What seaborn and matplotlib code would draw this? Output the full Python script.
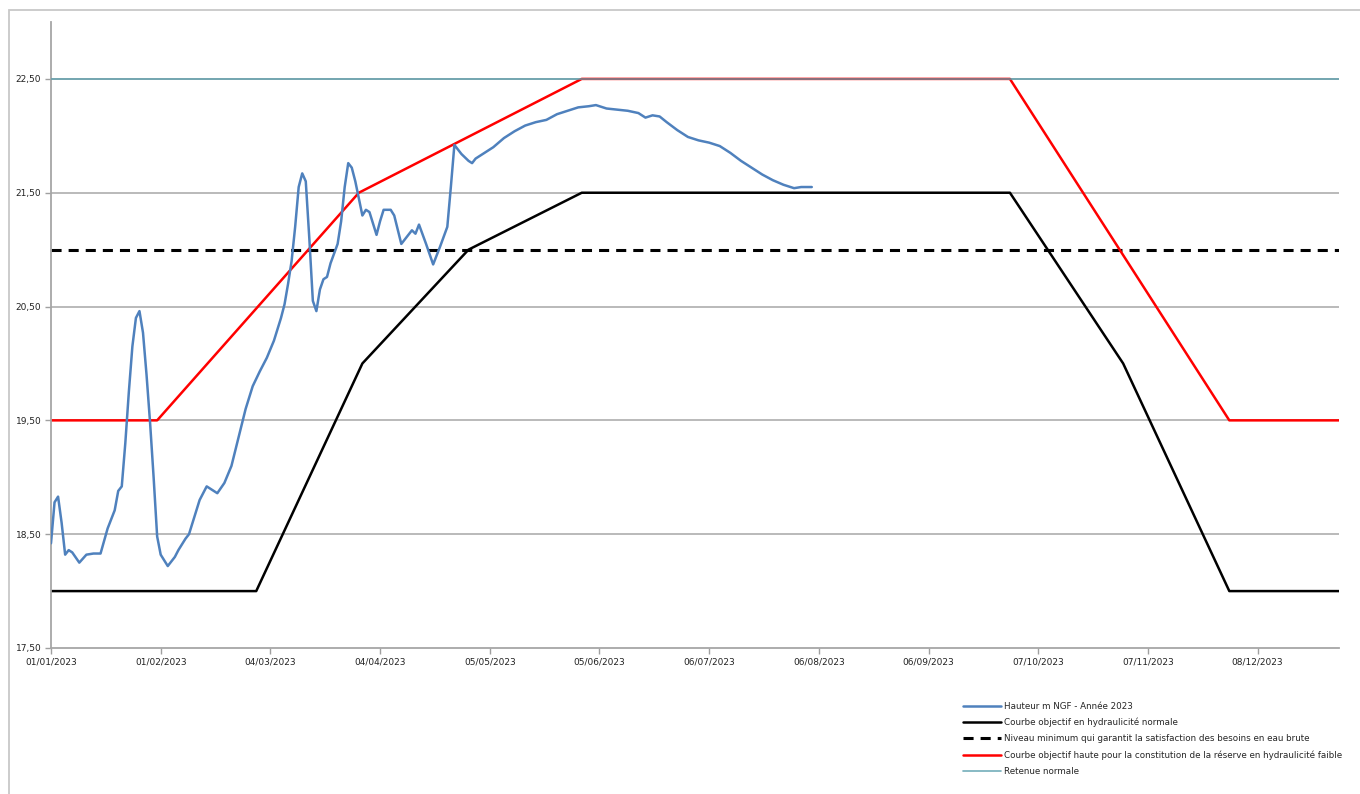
import pandas as pd
import seaborn as sns
import matplotlib.pyplot as plt
import matplotlib.dates as mdates
from matplotlib.patches import Rectangle

# Hauteur m NGF - relevés 2023 (jour de l'année, niveau)
hauteur_jour = [0, 1, 2, 3, 4, 5, 6, 8, 10, 12, 14, 16, 18, 19, 20, 21, 22, 23, 24, 25,
                26, 27, 28, 29, 30, 31, 33, 35, 36, 38, 39, 40, 42, 44, 46, 47, 49, 51, 53, 55,
                57, 59, 61, 63, 65, 66, 67, 68, 69, 70, 71, 72, 73, 74, 75, 76, 77, 78, 79, 81,
                82, 83, 84, 85, 86, 87, 88, 89, 90, 92, 93, 94, 96, 97, 99, 101, 102, 103, 104, 106,
                108, 110, 112, 113, 114, 116, 118, 119, 120, 122, 125, 128, 131, 134, 137, 140, 143, 146, 149, 152,
                154, 157, 160, 163, 166, 168, 170, 172, 174, 177, 180, 183, 186, 189, 192, 195, 198, 201, 204, 207,
                210, 212, 215]
hauteur_val = [18.42, 18.78, 18.83, 18.60, 18.32, 18.36, 18.34, 18.25, 18.32, 18.33, 18.33, 18.55, 18.71, 18.88, 18.92, 19.30, 19.75, 20.15, 20.40, 20.46,
               20.27, 19.90, 19.48, 19.00, 18.48, 18.32, 18.22, 18.30, 18.36, 18.46, 18.50, 18.60, 18.80, 18.92, 18.88, 18.86, 18.95, 19.10, 19.35, 19.60,
               19.80, 19.93, 20.05, 20.20, 20.40, 20.52, 20.70, 20.90, 21.20, 21.55, 21.67, 21.60, 21.10, 20.55, 20.46, 20.65, 20.74, 20.76, 20.88, 21.05,
               21.25, 21.55, 21.76, 21.72, 21.60, 21.45, 21.30, 21.35, 21.33, 21.13, 21.25, 21.35, 21.35, 21.30, 21.05, 21.13, 21.17, 21.14, 21.22, 21.05,
               20.87, 21.03, 21.20, 21.55, 21.92, 21.84, 21.78, 21.76, 21.80, 21.84, 21.90, 21.98, 22.04, 22.09, 22.12, 22.14, 22.19, 22.22, 22.25, 22.26,
               22.27, 22.24, 22.23, 22.22, 22.20, 22.16, 22.18, 22.17, 22.12, 22.05, 21.99, 21.96, 21.94, 21.91, 21.85, 21.78, 21.72, 21.66, 21.61, 21.57,
               21.54, 21.55, 21.55]

# Courbe objectif en hydraulicité normale
normale_dates = ["2023-01-01", "2023-02-28", "2023-03-30", "2023-04-29", "2023-05-31",
                 "2023-09-29", "2023-10-31", "2023-11-30", "2023-12-31"]
normale_val = [18.0, 18.0, 20.0, 21.0, 21.5, 21.5, 20.0, 18.0, 18.0]

# Courbe objectif haute (hydraulicité faible)
haute_dates = ["2023-01-01", "2023-01-31", "2023-03-29", "2023-05-31",
               "2023-09-29", "2023-11-30", "2023-12-31"]
haute_val = [19.5, 19.5, 21.5, 22.5, 22.5, 19.5, 19.5]

# Niveau minimum et retenue normale
bornes = ["2023-01-01", "2023-12-31"]
niveau_min = [21.0, 21.0]
retenue = [22.5, 22.5]

yticks = [17.5, 18.5, 19.5, 20.5, 21.5, 22.5]
ytick_labels = ["17,50", "18,50", "19,50", "20,50", "21,50", "22,50"]
xtick_dates = ["2023-01-01", "2023-02-01", "2023-03-04", "2023-04-04", "2023-05-05", "2023-06-05",
               "2023-07-06", "2023-08-06", "2023-09-06", "2023-10-07", "2023-11-07", "2023-12-08"]

labels = ["Hauteur m NGF - Année 2023",
          "Courbe objectif en hydraulicité normale",
          "Niveau minimum qui garantit la satisfaction des besoins en eau brute",
          "Courbe objectif haute pour la constitution de la réserve en hydraulicité faible",
          "Retenue normale"]

sns.set_style("white")
plt.rcParams['font.family'] = ['DejaVu Sans']

df_h = pd.DataFrame({"date": pd.Timestamp("2023-01-01") + pd.to_timedelta(hauteur_jour, unit="D"),
                     "val": hauteur_val})
df_n = pd.DataFrame({"date": pd.to_datetime(normale_dates), "val": normale_val})
df_r = pd.DataFrame({"date": pd.to_datetime(haute_dates), "val": haute_val})
df_m = pd.DataFrame({"date": pd.to_datetime(bornes), "val": niveau_min})
df_t = pd.DataFrame({"date": pd.to_datetime(bornes), "val": retenue})

fig = plt.figure(figsize=(13.6, 7.94), dpi=100)
ax = fig.add_axes([51/1360, 1-648/794, (1339-51)/1360, (648-22)/794])

# grille horizontale
for y in yticks[1:]:
    ax.axhline(y, color="#b4b4b4", lw=1.3, zorder=0)

sns.lineplot(data=df_h, x="date", y="val", ax=ax, color="#4F81BD", lw=1.8, label=labels[0], zorder=3,
             solid_joinstyle="round")
sns.lineplot(data=df_n, x="date", y="val", ax=ax, color="black", lw=1.8, label=labels[1], zorder=2)
sns.lineplot(data=df_m, x="date", y="val", ax=ax, color="black", lw=2.2, label=labels[2],
             zorder=2, dashes=False)
ax.lines[-1].set_dashes([3.3, 2.3])
sns.lineplot(data=df_r, x="date", y="val", ax=ax, color="#FF0000", lw=1.8, label=labels[3], zorder=2)
sns.lineplot(data=df_t, x="date", y="val", ax=ax, color="#5a9fae", lw=1.2, alpha=0.85, label=labels[4], zorder=4)

ax.set_xlim(pd.Timestamp("2023-01-01"), pd.Timestamp("2023-12-31"))
ax.set_ylim(17.5, 23.0)
ax.set_yticks(yticks)
ax.set_yticklabels(ytick_labels)
ax.set_xticks(pd.to_datetime(xtick_dates))
ax.xaxis.set_major_formatter(mdates.DateFormatter("%d/%m/%Y"))
ax.set_xlabel("")
ax.set_ylabel("")
ax.tick_params(axis="both", labelsize=6.5, colors="#222222", length=4, width=1, direction="out",
               left=True, bottom=True, pad=3)
ax.tick_params(axis="both", color="#a0a0a0")
for s in ["top", "right"]:
    ax.spines[s].set_visible(False)
for s in ["left", "bottom"]:
    ax.spines[s].set_color("#a6a6a6")
    ax.spines[s].set_linewidth(1.3)

ax.get_legend().remove()
handles, _ = ax.get_legend_handles_labels()
fig.legend(handles, labels, loc="upper left", bbox_to_anchor=(955/1360, 1-694/794),
           frameon=False, fontsize=6.3, handlelength=4.4, labelspacing=0.8, handletextpad=0.3)

# cadre du graphique
fig.patches.append(Rectangle((9/1360, -0.05), 1.1, 1-10/794+0.05, transform=fig.transFigure,
                             fill=False, edgecolor="#c8c8c8", lw=1.3, figure=fig))

fig.savefig("out.png", dpi=100)
